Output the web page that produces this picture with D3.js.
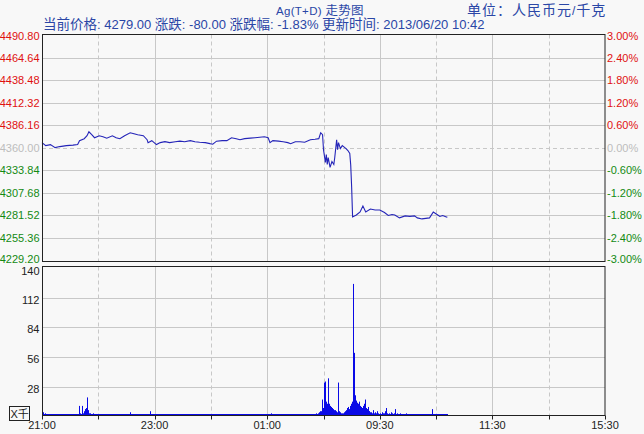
<!DOCTYPE html>
<html><head><meta charset="utf-8">
<script src="https://cdn.jsdelivr.net/npm/d3@7/dist/d3.min.js"></script>
<style>
html,body{margin:0;padding:0;background:#f8f8f8;}
svg{display:block;}
</style></head>
<body>
<script>
// ---------- DATA ----------
const priceTicks = [4490.80,4464.64,4438.48,4412.32,4386.16,4360.00,4333.84,4307.68,4281.52,4255.36,4229.20];
const pctTicks = ["3.00%","2.40%","1.80%","1.20%","0.60%","0.00%","-0.60%","-1.20%","-1.80%","-2.40%","-3.00%"];
const volTicks = [28,56,84,112,140];
const timeTickMinutes = [0,120,240,360,480,600];
const timeTickLabels = ["21:00","23:00","01:00","09:30","11:30","15:30"];
const prevClose = 4360.00;

// minute offsets from 21:00 (trading minutes) and prices
const priceMinutes = [0,4,9,14,19,26,33,38,40,45,48,50,53,56,61,65,69,75,79,83,88,94,98,102,108,112,113,117,122,126,131,136,142,147,152,158,163,168,174,179,182,186,192,197,202,207,211,216,222,227,232,237,241,243,246,252,257,262,265,270,275,280,286,291,295,297,299,300,302,303,304,305,307,309,311,312,314,315,316,318,320,324,326,328,329,330,331,335,339,342,345,350,355,360,365,369,373,376,381,387,392,397,400,405,409,413,417,421,424,427,431,432];
const priceValues = [4365.9,4362.4,4363.6,4360.1,4361.3,4362.4,4363.0,4363.6,4368.2,4370.5,4373.9,4378.5,4375.1,4371.6,4373.9,4372.8,4371.1,4373.9,4371.6,4370.5,4373.9,4377.4,4376.2,4375.1,4373.9,4369.3,4365.9,4368.2,4363.6,4365.9,4367.0,4365.9,4367.0,4367.6,4367.0,4368.2,4367.0,4366.4,4365.9,4364.7,4364.1,4367.6,4368.2,4368.2,4371.6,4370.5,4369.3,4370.5,4371.1,4371.6,4372.2,4372.8,4371.6,4365.9,4368.2,4367.6,4367.0,4365.9,4364.7,4367.0,4367.0,4366.4,4369.3,4369.9,4370.5,4377.4,4375.1,4357.8,4342.8,4352.1,4340.5,4348.6,4337.1,4344.0,4340.5,4348.6,4369.3,4357.8,4365.9,4359.0,4362.4,4359.0,4356.7,4353.2,4340.0,4314.1,4279.5,4281.8,4285.3,4292.2,4285.3,4288.7,4287.6,4287.6,4284.7,4281.2,4282.4,4281.8,4278.4,4280.7,4280.1,4280.7,4278.4,4277.2,4277.8,4278.4,4285.3,4282.4,4280.1,4281.2,4279.5,4279.0];

// per-minute volume (thousands), index = minute offset
const volumes = [
3,4,2,3,2,1,2,1,1,2,1,1,2,1,1,1,2,1,1,2,
1,1,2,1,1,2,1,1,1,2,1,2,1,1,2,1,1,2,2,10,
3,2,1,10,3,5,7,8,18,6,3,3,2,2,3,2,2,1,2,2,
1,2,1,1,2,1,2,1,1,1,2,1,1,2,1,1,1,2,1,1,
2,1,1,1,2,1,1,1,2,1,1,2,1,1,4,2,1,1,2,1,
1,2,1,1,1,2,1,1,2,1,1,1,2,1,2,5,2,1,1,2,
2,1,1,2,1,1,2,1,1,1,2,1,2,1,1,2,1,1,1,2,
1,1,2,1,1,2,1,2,1,1,1,2,1,1,2,1,1,1,2,1,
1,2,1,1,1,2,1,1,2,1,1,2,1,1,1,2,1,1,2,1,
1,1,2,1,2,1,1,1,2,1,1,2,1,1,1,2,1,1,1,2,
1,2,1,1,2,1,1,1,2,1,1,1,2,1,1,2,1,1,1,2,
1,1,2,1,1,1,2,1,1,2,1,1,1,2,1,1,2,1,1,1,
2,1,1,2,3,2,1,1,2,1,1,1,2,1,1,2,1,1,1,2,
1,1,2,1,1,2,1,1,1,2,1,1,2,1,1,1,2,1,1,2,
1,2,1,1,2,1,1,2,2,1,2,2,3,2,3,4,5,5,16,8,
12,32,33,14,12,36,12,10,9,8,7,6,6,5,4,32,5,4,4,3,
3,3,4,5,6,8,9,7,10,12,14,125,60,41,20,15,13,12,14,10,
9,8,10,12,16,8,7,9,5,5,4,4,3,6,3,4,3,5,3,2,
3,2,4,3,2,3,5,8,3,2,3,2,4,3,2,3,7,2,3,2,
2,3,1,2,2,1,2,1,3,1,2,1,1,2,1,1,2,1,1,2,
1,1,2,1,1,2,1,1,1,2,1,1,2,1,1,2,7,2,1,1,
2,1,1,2,1,1,1,2,1,1,2,1,1
];

const titleText = "Ag(T+D) 走势图";
const unitText = "单位：人民币元/千克";
const infoText = "当前价格: 4279.00 涨跌: -80.00 涨跌幅: -1.83% 更新时间: 2013/06/20 10:42";

// ---------- LAYOUT ----------
const W = 644, H = 434;
const L = 42, R = 605;
const upTop = 34.5, upBot = 261.5;
const loTop = 266.5, loBot = 415.5;
const LATIN = "'Liberation Sans', Arial, sans-serif";
const CJK = "'Noto Sans CJK SC', sans-serif";

const svg = d3.select("body").append("svg").attr("width", W).attr("height", H);
svg.append("rect").attr("width", W).attr("height", H).attr("fill", "#f8f8f8");

const x = d3.scaleLinear().domain([0, 600]).range([L, R]);
const y = d3.scaleLinear().domain([4229.20, 4490.80]).range([260.2, 35.2]);
const yv = d3.scaleLinear().domain([0, 140]).range([416.5, 268]);

// mixed-font text helper
function mixedText(g, str, xPos, yPos, latinSize, cjkSize, color, spacing) {
  const t = g.append("text").attr("x", xPos).attr("y", yPos).attr("fill", color)
    .style("white-space", "pre");
  if (spacing) t.attr("letter-spacing", spacing);
  const runs = str.match(/[\u3000-\u9fff\uff00-\uffef]+|[^\u3000-\u9fff\uff00-\uffef]+/g);
  runs.forEach(r => {
    const isCjk = /[\u3000-\u9fff\uff00-\uffef]/.test(r);
    t.append("tspan").text(r)
      .attr("font-family", isCjk ? CJK : LATIN)
      .attr("font-size", isCjk ? cjkSize : latinSize);
  });
  return t;
}

// titles
mixedText(svg, titleText, 276, 14.5, 11.5, 12.5, "#2a46a6", 0.3);
mixedText(svg, unitText, 467, 15, 12, 14, "#2a46a6", 1);
mixedText(svg, infoText, 43, 29, 13, 13.5, "#2a46a6");

const gridColor = "#c8c8c8";
const divs = d3.range(1, 10);

// ---------- UPPER PANEL ----------
const up = svg.append("g");
priceTicks.forEach((v, i) => {
  if (i === 0 || i === priceTicks.length - 1) return;
  up.append("line")
    .attr("x1", L).attr("x2", R)
    .attr("y1", Math.round(y(v)) + 0.5).attr("y2", Math.round(y(v)) + 0.5)
    .attr("stroke", gridColor)
    .attr("stroke-dasharray", v === prevClose ? "4,3" : null);
});
function vGrid(g, top, bot) {
  divs.forEach(d => {
    const xx = Math.round(x(d * 60)) + 0.5;
    g.append("line").attr("x1", xx).attr("x2", xx).attr("y1", top).attr("y2", bot)
      .attr("stroke", gridColor)
      .attr("stroke-dasharray", d % 2 === 1 ? "4,3" : null);
  });
}
vGrid(up, upTop, upBot);

// price line
const priceData = priceMinutes.map((m, i) => [m, priceValues[i]]);
up.append("path").datum(priceData)
  .attr("d", d3.line().x(d => x(d[0])).y(d => y(d[1])))
  .attr("fill", "none").attr("stroke", "#2424b8").attr("stroke-width", 1.1);

up.append("rect").attr("x", L + 0.5).attr("y", upTop).attr("width", R - L - 0.5).attr("height", upBot - upTop)
  .attr("fill", "none").attr("stroke", "#222").attr("stroke-width", 1);

// left / right labels
const clampY = v => Math.max(36, Math.min(258.5, v));
priceTicks.forEach((v, i) => {
  const col = v > prevClose ? "#e01010" : (v < prevClose ? "#138a13" : "#bdbdbd");
  const yy = clampY(y(v)) + 4;
  svg.append("text").attr("x", 39.5).attr("y", yy)
    .attr("text-anchor", "end").attr("font-family", LATIN).attr("font-size", 11)
    .attr("fill", col).text(v.toFixed(2));
  svg.append("text").attr("x", 607).attr("y", yy)
    .attr("text-anchor", "start").attr("font-family", LATIN).attr("font-size", 11)
    .attr("fill", col).text(pctTicks[i]);
});

// ---------- LOWER PANEL ----------
const lo = svg.append("g");
volTicks.forEach(v => {
  if (v !== 140) {
    lo.append("line").attr("x1", L).attr("x2", R)
      .attr("y1", Math.round(yv(v)) + 0.5).attr("y2", Math.round(yv(v)) + 0.5)
      .attr("stroke", gridColor);
  }
  svg.append("text").attr("x", 39.5).attr("y", Math.max(270.5, yv(v) + 2) + 4)
    .attr("text-anchor", "end").attr("font-family", LATIN).attr("font-size", 11)
    .attr("fill", "#222").text(v);
});
vGrid(lo, loTop, loBot);

lo.selectAll("line.vol").data(volumes).enter().append("line")
  .attr("class", "vol")
  .attr("x1", (d, i) => Math.round(x(i)) + 0.5).attr("x2", (d, i) => Math.round(x(i)) + 0.5)
  .attr("y1", loBot).attr("y2", d => Math.min(loBot - 1.5, yv(d)))
  .attr("stroke", "#0a0ae6").attr("stroke-width", 1);

lo.append("rect").attr("x", L + 0.5).attr("y", loTop).attr("width", R - L - 0.5).attr("height", loBot - loTop)
  .attr("fill", "none").attr("stroke", "#222").attr("stroke-width", 1);

// x axis ticks
divs.concat([0, 10]).forEach(d => {
  const xx = Math.round(x(d * 60)) + 0.5;
  svg.append("line").attr("x1", xx).attr("x2", xx).attr("y1", loBot).attr("y2", loBot + 4)
    .attr("stroke", "#222");
});
timeTickMinutes.forEach((m, i) => {
  svg.append("text").attr("x", x(m)).attr("y", 429)
    .attr("text-anchor", "middle").attr("font-family", LATIN).attr("font-size", 11)
    .attr("fill", "#222").text(timeTickLabels[i]);
});

// unit box
svg.append("rect").attr("x", 9.5).attr("y", 406.5).attr("width", 20).attr("height", 14)
  .attr("fill", "none").attr("stroke", "#222");
mixedText(svg, "X千", 10.5, 418, 11, 11, "#222");
</script>
</body></html>
